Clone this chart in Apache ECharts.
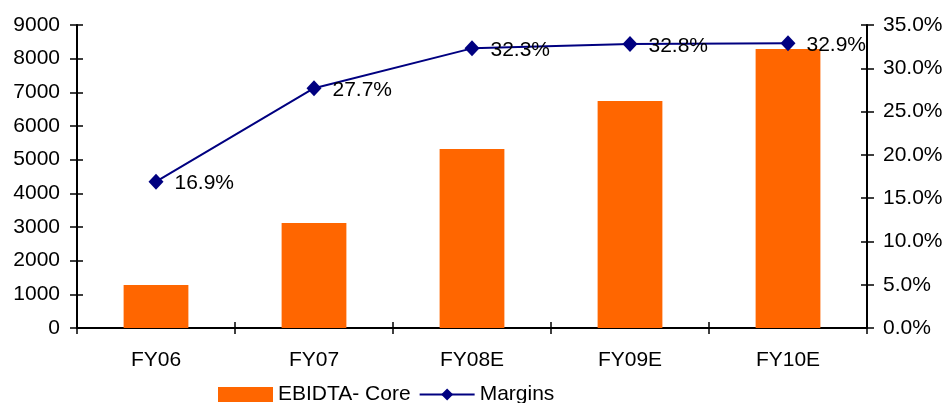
<!DOCTYPE html>
<html>
<head>
<meta charset="utf-8">
<script src="https://cdn.jsdelivr.net/npm/echarts@6/dist/echarts.min.js"></script>
<style>
  html, body { margin: 0; padding: 0; background: #fff; }
  #chart { width: 948px; height: 403px; }
</style>
</head>
<body>
<div id="chart"></div>
<script>
// Core EBITDA (bars, left axis) and EBITDA margin in % (line, right axis)
const categories = ['FY06', 'FY07', 'FY08E', 'FY09E', 'FY10E'];
const ebitdaCore = [1280, 3120, 5320, 6740, 8290];
const margins = [16.9, 27.7, 32.3, 32.8, 32.9];

const FONT = 'Liberation Sans, Arial, sans-serif';
const textStyle = { color: '#000', fontFamily: FONT, fontSize: 21 };
const axisLine = { show: true, lineStyle: { color: '#000', width: 2 } };
const tickStyle = { color: '#000', width: 1.5 };

const grid = { left: 77, right: 81, top: 25, bottom: 75 };

const chart = echarts.init(document.getElementById('chart'), null, { renderer: 'canvas' });

chart.setOption({
  animation: false,
  backgroundColor: '#fff',
  grid: grid,
  legend: {
    top: 384,
    left: 218,
    padding: 0,
    itemWidth: 55,
    itemHeight: 15,
    itemGap: 8,
    textStyle: textStyle,
    data: [
      { name: 'EBIDTA- Core', icon: 'rect' },
      { name: 'Margins' }
    ]
  },
  xAxis: [
    {
      type: 'category',
      data: categories,
      axisLine: axisLine,
      axisTick: { show: true, length: 6, lineStyle: tickStyle },
      axisLabel: Object.assign({ margin: 22 }, textStyle),
      splitLine: { show: false }
    },
    {
      // inward half of the crossing category ticks
      type: 'category',
      data: categories,
      position: 'bottom',
      axisLine: { show: false },
      axisTick: { show: true, inside: true, length: 6, lineStyle: tickStyle },
      axisLabel: { show: false },
      splitLine: { show: false }
    }
  ],
  yAxis: [
    {
      type: 'value',
      min: 0, max: 9000, interval: 1000,
      axisLine: axisLine,
      axisTick: { show: true, length: 7, lineStyle: tickStyle },
      axisLabel: Object.assign({ margin: 17, formatter: v => String(v) }, textStyle),
      splitLine: { show: false }
    },
    {
      type: 'value',
      position: 'right',
      min: 0, max: 35, interval: 5,
      axisLine: axisLine,
      axisTick: { show: true, length: 7, lineStyle: tickStyle },
      axisLabel: Object.assign({ margin: 16, formatter: v => v.toFixed(1) + '%' }, textStyle),
      splitLine: { show: false }
    },
    {
      // inward half of the crossing left ticks
      type: 'value',
      position: 'left',
      min: 0, max: 9000, interval: 1000,
      axisLine: { show: false },
      axisTick: { show: true, inside: true, length: 6, lineStyle: tickStyle },
      axisLabel: { show: false },
      splitLine: { show: false }
    },
    {
      // inward half of the crossing right ticks
      type: 'value',
      position: 'right',
      min: 0, max: 35, interval: 5,
      axisLine: { show: false },
      axisTick: { show: true, inside: true, length: 6, lineStyle: tickStyle },
      axisLabel: { show: false },
      splitLine: { show: false }
    }
  ],
  series: [
    {
      name: 'EBIDTA- Core',
      type: 'bar',
      xAxisIndex: 0,
      yAxisIndex: 0,
      data: ebitdaCore,
      barWidth: '41%',
      itemStyle: { color: '#FF6600' }
    },
    {
      name: 'Margins',
      type: 'line',
      xAxisIndex: 0,
      yAxisIndex: 1,
      data: margins,
      symbol: 'diamond',
      symbolSize: [15, 16],
      lineStyle: { color: '#000080', width: 2 },
      itemStyle: { color: '#000080' },
      label: {
        show: true,
        position: 'right',
        distance: 11,
        offset: [0, 2],
        color: '#000',
        fontFamily: FONT,
        fontSize: 21,
        formatter: p => p.value.toFixed(1) + '%'
      },
      z: 5
    }
  ]
});
</script>
</body>
</html>
